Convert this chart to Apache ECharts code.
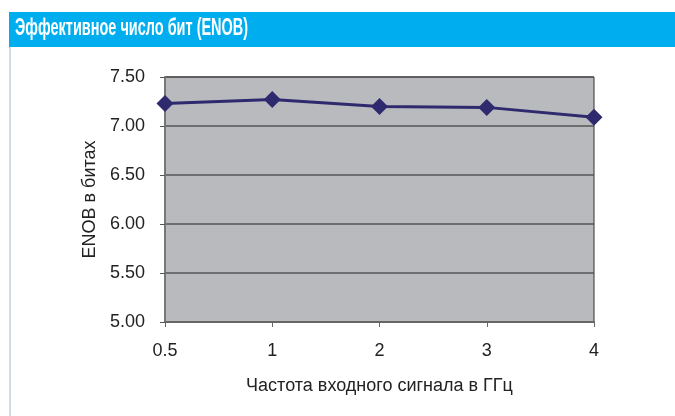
<!DOCTYPE html>
<html>
<head>
<meta charset="utf-8">
<script src="https://cdn.jsdelivr.net/npm/echarts@6/dist/echarts.min.js"></script>
<style>
  html, body { margin: 0; padding: 0; background: #fff; }
  #chart { width: 675px; height: 416px; }
</style>
</head>
<body>
<div id="chart"></div>
<script>
var freqs = ['0.5', '1', '2', '3', '4'];
var enob = [7.23, 7.27, 7.20, 7.19, 7.09];
var yTicks = { min: 5, max: 7.5, step: 0.5 };

var font = '"Liberation Sans Narrow", "Liberation Sans", Arial, sans-serif';
var lineColor = '#2f2a6e';

var chart = echarts.init(document.getElementById('chart'));

var option = {
  backgroundColor: '#fff',
  animation: false,
  graphic: [
    {
      type: 'rect',
      shape: { x: 9, y: 12, width: 666, height: 35 },
      style: { fill: '#00aeef' }
    },
    {
      type: 'rect',
      shape: { x: 9, y: 47, width: 2, height: 369 },
      style: { fill: '#d3dbe3' }
    },
    {
      // condensed bold heading, squeezed horizontally
      type: 'text',
      x: 15,
      y: 17,
      scaleX: 0.63,
      style: {
        text: 'Эффективное число бит (ENOB)',
        fill: '#fff',
        font: 'bold 23px ' + font
      }
    }
  ],
  grid: {
    left: 165,
    right: 81,
    top: 77,
    bottom: 94,
    show: true,
    backgroundColor: '#b9babe',
    borderColor: '#333',
    borderWidth: 1
  },
  xAxis: {
    type: 'category',
    data: freqs,
    boundaryGap: false,
    name: 'Частота входного сигнала в ГГц',
    nameLocation: 'middle',
    nameGap: 55,
    nameTextStyle: { fontFamily: font, fontSize: 18, color: '#222' },
    axisLine: { lineStyle: { color: '#666', width: 2 } },
    axisTick: { show: true, length: 5, lineStyle: { color: '#666' } },
    axisLabel: { fontFamily: font, fontSize: 18, color: '#222', margin: 20 },
    splitLine: { show: false }
  },
  yAxis: {
    type: 'value',
    min: yTicks.min,
    max: yTicks.max,
    interval: yTicks.step,
    name: 'ENOB в битах',
    nameLocation: 'middle',
    nameGap: 57,
    nameTextStyle: { fontFamily: font, fontSize: 18, color: '#222' },
    axisLine: { show: true, lineStyle: { color: '#777', width: 2 } },
    axisTick: { show: true, length: 5, lineStyle: { color: '#555' } },
    axisLabel: {
      fontFamily: font, fontSize: 18, color: '#222', margin: 20,
      formatter: function (v) { return v.toFixed(2); }
    },
    splitLine: { show: true, lineStyle: { color: '#555', width: 1.5 } }
  },
  series: [{
    type: 'line',
    data: enob,
    symbol: 'diamond',
    symbolSize: 17,
    lineStyle: { color: lineColor, width: 3 },
    itemStyle: { color: lineColor }
  }]
};

chart.setOption(option);
</script>
</body>
</html>
